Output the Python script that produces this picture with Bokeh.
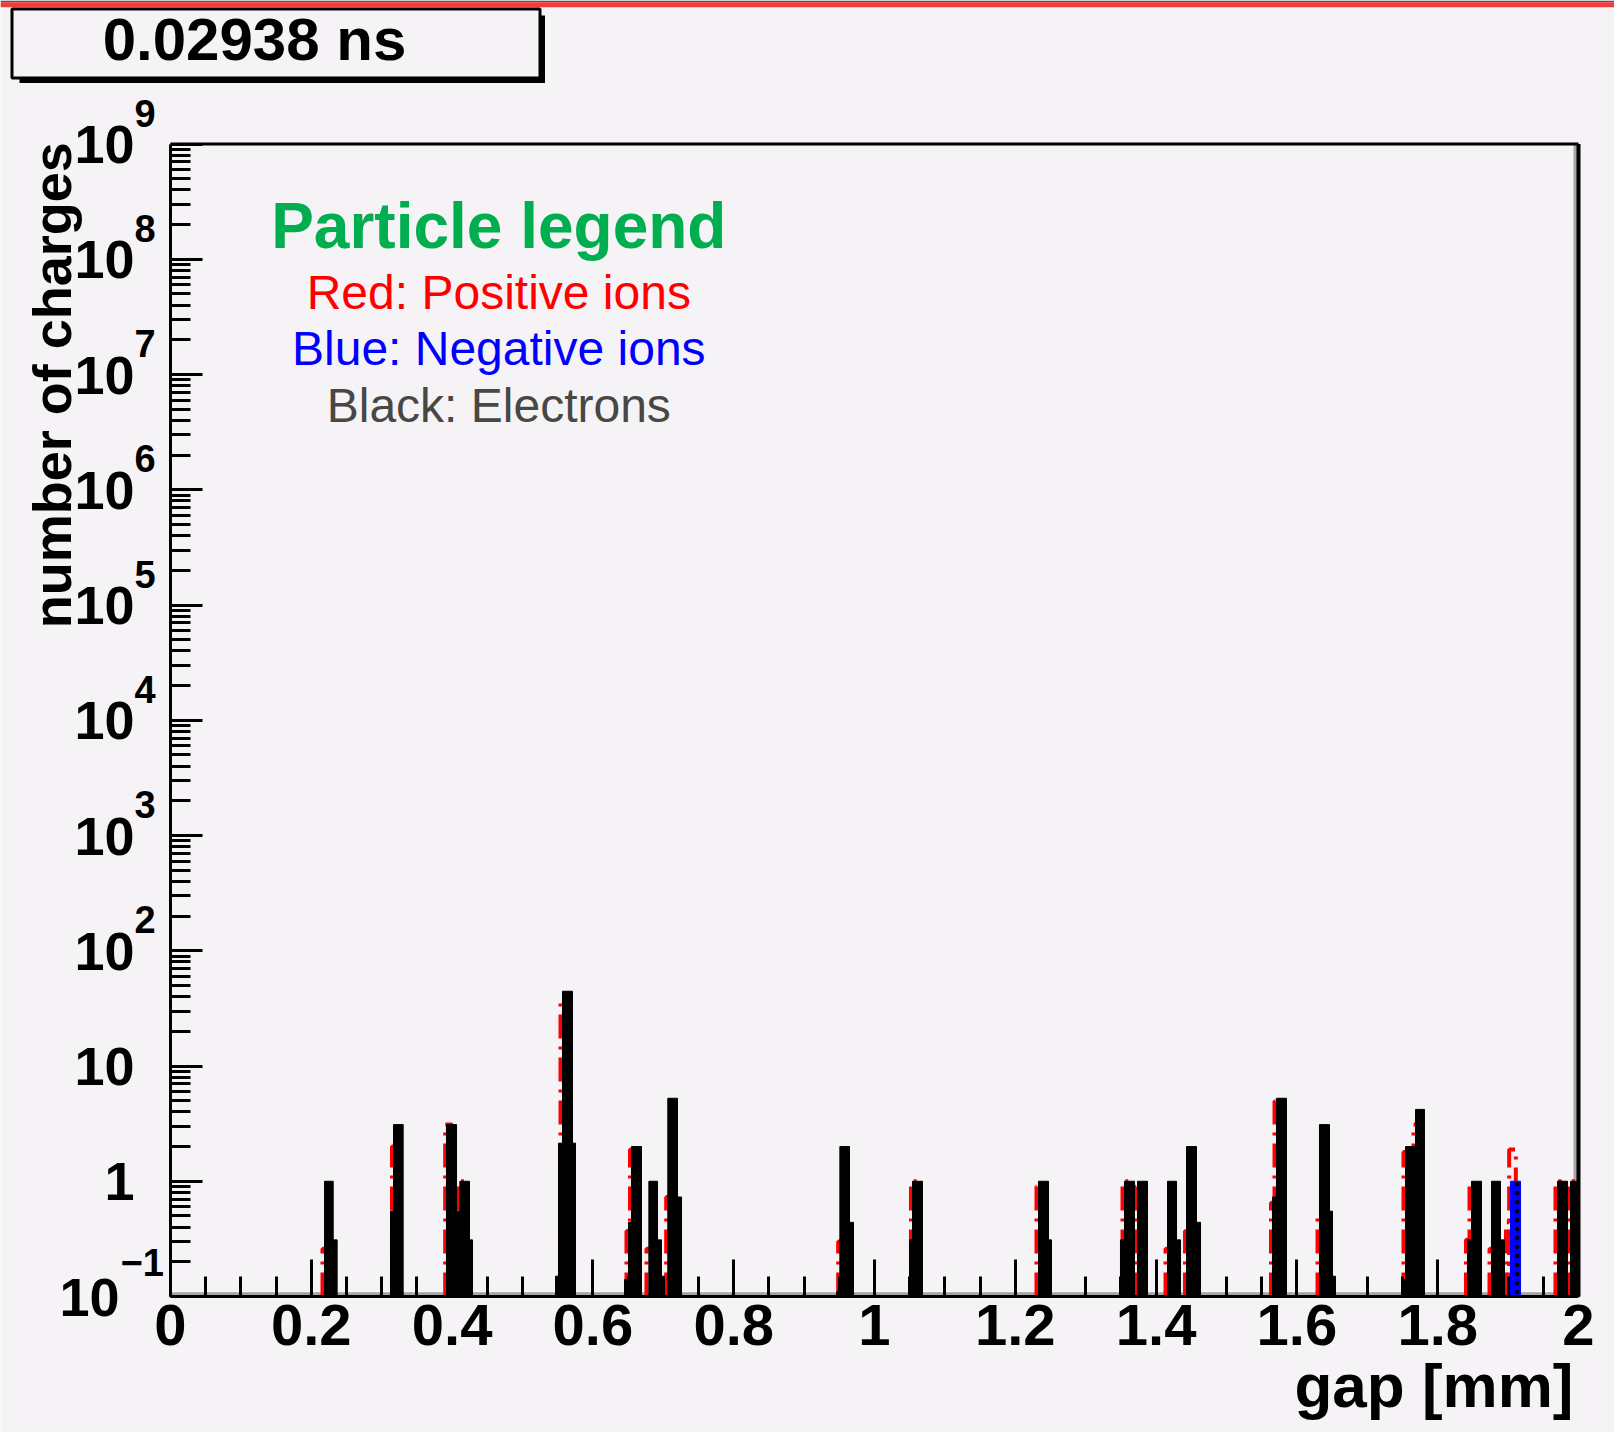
from bokeh.plotting import figure
from bokeh.models import Range1d, FixedTicker, Label, BoxAnnotation
from bokeh.embed import file_html
from bokeh.resources import INLINE

# ---------------- data ----------------
time_text = "0.02938 ns"
x_title = "gap [mm]"
y_title = "number of charges"
legend_title = "Particle legend"
legend_lines = ["Red: Positive ions", "Blue: Negative ions", "Black: Electrons"]
legend_colors = ["#ff0000", "#0000ff", "#474744"]

x_tick_labels = ["0", "0.2", "0.4", "0.6", "0.8", "1", "1.2", "1.4", "1.6", "1.8", "2"]
y_decades = [-1, 0, 1, 2, 3, 4, 5, 6, 7, 8, 9]

# electrons (black) : bin left edge, right edge [mm], content
electron_x0 = [0.2188, 0.2311, 0.3125, 0.3168, 0.3920, 0.4063, 0.4110, 0.4247,
               0.5469, 0.5511, 0.5568, 0.5710, 0.6449, 0.6506, 0.6548, 0.6795,
               0.6918, 0.6974, 0.7064, 0.7202, 0.9460, 0.9508, 0.9645, 1.0497,
               1.0540, 1.2330, 1.2472, 1.3494, 1.3551, 1.3736, 1.4162, 1.4290,
               1.4432, 1.4574, 1.5653, 1.5710, 1.6321, 1.6463, 1.6506, 1.7486,
               1.7543, 1.7685, 1.8423, 1.8480, 1.8764, 1.8892, 1.9702, 1.9886]
electron_x1 = [0.2311, 0.2367, 0.3168, 0.3305, 0.4063, 0.4110, 0.4247, 0.4290,
               0.5511, 0.5568, 0.5710, 0.5753, 0.6506, 0.6548, 0.6690, 0.6918,
               0.6974, 0.7017, 0.7202, 0.7259, 0.9508, 0.9645, 0.9702, 1.0540,
               1.0682, 1.2472, 1.2514, 1.3551, 1.3693, 1.3878, 1.4290, 1.4347,
               1.4574, 1.4631, 1.5710, 1.5852, 1.6463, 1.6506, 1.6548, 1.7543,
               1.7685, 1.7812, 1.8480, 1.8622, 1.8892, 1.8949, 1.9844, 2.0000]
electron_n = [1.0, 0.31, 0.55, 3.1, 3.1, 0.55, 1.0, 0.31,
              0.15, 2.14, 44.5, 2.14, 0.14, 0.44, 2.0, 1.0,
              0.31, 0.15, 5.25, 0.73, 0.11, 2.0, 0.44, 0.31,
              1.0, 1.0, 0.31, 0.31, 1.0, 1.0, 1.0, 0.31,
              2.0, 0.44, 0.73, 5.25, 3.1, 0.55, 0.15, 0.14,
              2.0, 4.2, 0.31, 1.0, 1.0, 0.31, 1.0, 1.0]

# positive ions (red, dashed outline)
positive_x0 = [0.2159, 0.3146, 0.3902, 0.4087, 0.5540, 0.6477, 0.6527, 0.6761,
               0.7041, 0.9484, 1.0518, 1.2301, 1.3523, 1.3714, 1.4134, 1.4411,
               1.5632, 1.5682, 1.6293, 1.7514, 1.7656, 1.8402, 1.8452, 1.8736,
               1.8970, 1.9015, 1.9673, 1.9865]
positive_x1 = [0.2250, 0.3250, 0.4000, 0.4180, 0.5650, 0.6527, 0.6620, 0.6850,
               0.7120, 0.9570, 1.0600, 1.2400, 1.3620, 1.3800, 1.4220, 1.4500,
               1.5682, 1.5780, 1.6400, 1.7600, 1.7750, 1.8452, 1.8550, 1.8820,
               1.9015, 1.9110, 1.9750, 1.9950]
positive_n = [0.26, 2.0, 3.1, 1.0, 37.7, 0.37, 1.89, 0.26,
              0.73, 0.30, 1.0, 0.9, 1.0, 0.9, 0.26, 0.37,
              0.65, 4.94, 0.51, 1.79, 3.1, 0.31, 0.95, 0.26,
              0.44, 1.89, 1.0, 1.0]

# negative ions (blue)
negative_x0 = [1.9034]
negative_x1 = [1.9176]
negative_n = [1.0]

# ---------------- geometry (pixels) ----------------
W, H = 1614, 1432
AX_L, AX_R = 170.0, 1578.0          # pixel x of gap = 0 and gap = 2
AX_B, AX_T = 1296.0, 143.5          # pixel y of 1e-1 and 1e9
BG = "#f6f3f6"
FONT = "Liberation Sans"

X0, X1 = float(x_tick_labels[0]), float(x_tick_labels[-1])
D0, D1 = y_decades[0], y_decades[-1]
Y_MIN, Y_MAX = 10.0 ** D0, 10.0 ** D1
px_per_mm = (AX_R - AX_L) / (X1 - X0)
px_per_dec = (AX_B - AX_T) / (D1 - D0)
x_lo = X0 - AX_L / px_per_mm
x_hi = X1 + (W - AX_R) / px_per_mm
y_lo = 10.0 ** (D0 - (H - AX_B) / px_per_dec)
y_hi = 10.0 ** (D1 + AX_T / px_per_dec)


def sy(page_y):
    """page pixel y (from top) -> screen units of annotations (from bottom)"""
    return H - page_y


p = figure(width=W, height=H, output_backend="svg", toolbar_location=None,
           x_range=Range1d(x_lo, x_hi), y_range=Range1d(y_lo, y_hi), y_axis_type="log",
           min_border=0, min_border_left=0, min_border_right=0, min_border_top=0,
           min_border_bottom=0)
p.title.visible = False
p.background_fill_color = BG
p.border_fill_color = BG
p.outline_line_color = None
p.xgrid.visible = False
p.ygrid.visible = False

# top strip of the canvas
p.add_layout(BoxAnnotation(left=0, right=W, top=sy(0), bottom=sy(1.7), left_units="screen",
                           right_units="screen", top_units="screen", bottom_units="screen",
                           fill_color="#555555", fill_alpha=1, line_color=None))
p.add_layout(BoxAnnotation(left=0, right=W, top=sy(1.7), bottom=sy(6.7), left_units="screen",
                           right_units="screen", top_units="screen", bottom_units="screen",
                           fill_color="#f23c3c", fill_alpha=1, line_color=None))

# gray inner lines along bottom and right of the frame
p.add_layout(BoxAnnotation(left=X0, right=X1, bottom=Y_MIN, top=sy(AX_B - 4.3),
                           top_units="screen", fill_color="#a5a5a5", fill_alpha=1,
                           line_color=None, level="underlay"))
p.add_layout(BoxAnnotation(left=AX_R - 5, right=X1, bottom=Y_MIN, top=Y_MAX,
                           left_units="screen", fill_color="#a5a5a5", fill_alpha=1,
                           line_color=None, level="underlay"))

# red dashed outlines (positive ions)
red_xs = [[a, a, b, b] for a, b in zip(positive_x0, positive_x1)]
red_ys = [[Y_MIN, n, n, Y_MIN] for n in positive_n]
p.multi_line(xs=red_xs, ys=red_ys, line_color="#ff0000", line_width=4,
             line_dash="24 8 3 8")

# black electrons
p.quad(left=electron_x0, right=electron_x1, bottom=Y_MIN, top=electron_n,
       fill_color="black", line_color="black", line_width=1)

# blue negative ions
p.quad(left=negative_x0, right=negative_x1, bottom=Y_MIN, top=negative_n,
       fill_color="#0000ff", line_color="#0000ff", line_width=1,
       hatch_pattern="dot", hatch_color="black", hatch_scale=9, hatch_weight=3)

# top and right frame lines
p.line(x=[X0, X1], y=[Y_MAX, Y_MAX], line_color="black", line_width=3)
p.line(x=[X1, X1], y=[Y_MAX, Y_MIN], line_color="black", line_width=4)

# ---------------- axes ----------------
x_ticks = [float(s) for s in x_tick_labels]
x_minor = [round(0.05 * i, 2) for i in range(41)]
xa = p.xaxis[0]
xa.fixed_location = Y_MIN
xa.bounds = (X0, X1)
xa.ticker = FixedTicker(ticks=x_ticks, minor_ticks=x_minor)
xa.major_label_overrides = {t: s for t, s in zip(x_ticks, x_tick_labels)}
xa.major_tick_in = 37
xa.major_tick_out = 0
xa.minor_tick_in = 20
xa.minor_tick_out = 0
xa.major_tick_line_width = 3
xa.minor_tick_line_width = 3
xa.axis_line_width = 3
xa.major_label_text_font = FONT
xa.major_label_text_font_style = "bold"
xa.major_label_text_font_size = "58px"
xa.major_label_text_color = "black"
xa.major_label_standoff = 8

y_ticks = [10.0 ** k for k in y_decades]
y_minor = [m * 10.0 ** k for k in y_decades[:-1] for m in range(2, 10)]
y_tick_text = {}
for k, t in zip(y_decades, y_ticks):
    if k == 0:
        y_tick_text[t] = "1"
    elif k < 0:
        y_tick_text[t] = "10\u00a0"
    else:
        y_tick_text[t] = "10"
ya = p.yaxis[0]
ya.fixed_location = X0
ya.bounds = (Y_MIN, Y_MAX)
ya.ticker = FixedTicker(ticks=y_ticks, minor_ticks=y_minor)
ya.major_label_overrides = y_tick_text
ya.major_tick_in = 32
ya.major_tick_out = 0
ya.minor_tick_in = 20
ya.minor_tick_out = 0
ya.major_tick_line_width = 3
ya.minor_tick_line_width = 3
ya.axis_line_width = 3
ya.major_label_text_font = FONT
ya.major_label_text_font_style = "bold"
ya.major_label_text_font_size = "54px"
ya.major_label_text_color = "black"
ya.major_label_standoff = 36

# exponents of the decade labels
for k, t in zip(y_decades, y_ticks):
    if k in (0, 1):
        continue
    txt = str(k) if k > 0 else "\u2212" + str(-k)
    p.add_layout(Label(x=134 if k > 0 else 120, y=t, x_units="screen", y_units="data",
                       y_offset=31 if k > 0 else 34, text=txt, text_font=FONT,
                       text_font_style="bold", text_font_size="38px",
                       text_align="left", text_baseline="middle", text_color="black"))

# axis titles
p.add_layout(Label(x=1573, y=sy(1405) + 0.32 * 62, x_units="screen", y_units="screen",
                   text=x_title, text_font=FONT, text_font_style="bold",
                   text_font_size="62px", text_align="right", text_baseline="alphabetic",
                   text_color="black"))
p.add_layout(Label(x=69 - 0.32 * 54, y=sy(141.7), x_units="screen", y_units="screen",
                   text=y_title, angle=1.5707963, text_font=FONT, text_font_style="bold",
                   text_font_size="54px", text_align="right",
                   text_baseline="alphabetic", text_color="black"))

# legend text
LEG_X = 498.3
p.add_layout(Label(x=LEG_X, y=sy(248.3) + 0.36 * 64, x_units="screen", y_units="screen",
                   text=legend_title, text_font=FONT, text_font_style="bold",
                   text_font_size="64px", text_align="center", text_baseline="alphabetic",
                   text_color="#00ad4f"))
for i, (txt, col) in enumerate(zip(legend_lines, legend_colors)):
    p.add_layout(Label(x=LEG_X, y=sy(310 + 56.7 * i) + 0.38 * 48, x_units="screen",
                       y_units="screen", text=txt, text_font=FONT, text_font_size="48px",
                       text_align="center", text_baseline="alphabetic", text_color=col))

# time box (shadow + box + text)
p.add_layout(BoxAnnotation(left=19, right=544.5, top=sy(15), bottom=sy(82.5),
                           left_units="screen", right_units="screen", top_units="screen",
                           bottom_units="screen", fill_color="black", fill_alpha=1,
                           line_color=None))
p.add_layout(BoxAnnotation(left=11.5, right=539.5, top=sy(8.5), bottom=sy(77.5),
                           left_units="screen", right_units="screen", top_units="screen",
                           bottom_units="screen", fill_color=BG, fill_alpha=1,
                           line_color="black", line_alpha=1, line_width=3))
p.add_layout(Label(x=254, y=sy(60.5) + 0.36 * 60, x_units="screen", y_units="screen",
                   text=time_text, text_font=FONT, text_font_style="bold",
                   text_font_size="60px", text_align="center", text_baseline="alphabetic",
                   text_color="black"))

open("out.html", "w").write(file_html(p, INLINE))
